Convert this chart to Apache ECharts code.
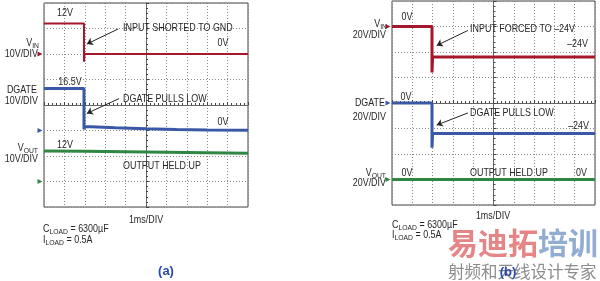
<!DOCTYPE html>
<html><head><meta charset="utf-8">
<script src="https://cdn.jsdelivr.net/npm/echarts@6/dist/echarts.min.js"></script>
<style>html,body{margin:0;padding:0;background:#fff}#c{width:600px;height:281px}</style>
</head><body><div id="c"></div>
<script>
// ---- Data (time in ms, values in volts) ----
const timeVinA = [0, 1.96, 1.96, 1.99, 10];
const vinA = [12, 12, -3, 0, 0];
const timeDgateA = [0, 1.96, 1.96, 2.0, 2.6, 3.5, 5, 6.5, 8, 10];
const dgateA = [16.5, 16.5, 0.5, 1.6, 1.4, 1.1, 0.7, 0.4, 0.2, 0.1];
const timeVoutA = [0, 2, 4, 6, 8, 10];
const voutA = [12, 11.9, 11.7, 11.5, 11.3, 11.1];

const timeVinB = [0, 1.97, 1.97, 2.0, 10];
const vinB = [0, 0, -36, -24, -24];
const timeDgateB = [0, 1.97, 1.97, 2.0, 10];
const dgateB = [0, 0, -35, -24, -24];
const timeVoutB = [0, 10];
const voutB = [0, 0];

// volts per division and position of 0V (divisions from bottom of 8)
const voltsPerDivA = [10, 10, 10];
const zeroDivA = [6, 3, 1];
const voltsPerDivB = [20, 20, 20];
const zeroDivB = [7, 4, 1];

// annotation arrows: [time, volts] start -> end
const arrowVinA = [[3.63, 9.8], [2.1, 3.9]];
const arrowDgateA = [[3.68, 12.5], [2.1, 6.7]];
const arrowVinB = [[3.74, -3.1], [2.2, -14.9]];
const arrowDgateB = [[3.74, -7.8], [2.2, -17.3]];

const RED = '#a5182c', BLUE = '#3b58a6', GREEN = '#2f8743';
const FONT = '"Liberation Sans", Arial, sans-serif';
const TXT = '#262626';
const SX = 0.85; // condensed look

const grids = [
  {left: 44, top: 3, width: 204, height: 204, show: true, borderColor: '#444', borderWidth: 1},
  {left: 392, top: 1, width: 203, height: 204, show: true, borderColor: '#444', borderWidth: 1}
];
const xAxes = [], yAxes = [], series = [];
const gridLine = {show: true, lineStyle: {color: '#8a8a8a', type: [1, 2], width: 1}};

function addPanel(gi, chans) {
  const xDiv = xAxes.length, yDiv = yAxes.length;
  xAxes.push({gridIndex: gi, type: 'value', min: -5, max: 5, interval: 1,
    axisLabel: {show: false}, splitLine: gridLine,
    axisLine: {show: true, onZero: true, onZeroAxisIndex: yDiv, lineStyle: {color: '#666', width: 1}},
    axisTick: {show: true, inside: true, length: 3, lineStyle: {color: '#444'}},
    minorTick: {show: true, splitNumber: 5, length: 2, lineStyle: {color: '#444'}}});
  const xt = xAxes.length;
  xAxes.push({gridIndex: gi, type: 'value', min: 0, max: 10, show: false});
  yAxes.push({gridIndex: gi, type: 'value', min: -4, max: 4, interval: 1,
    axisLabel: {show: false}, splitLine: gridLine,
    axisLine: {show: true, onZero: true, onZeroAxisIndex: xDiv, lineStyle: {color: '#666', width: 1}},
    axisTick: {show: true, inside: true, length: 3, lineStyle: {color: '#444'}},
    minorTick: {show: true, splitNumber: 5, length: 2, lineStyle: {color: '#444'}}});
  chans.forEach(ch => {
    const yi = yAxes.length;
    yAxes.push({gridIndex: gi, type: 'value', show: false,
      min: -ch.zero * ch.vpd, max: (8 - ch.zero) * ch.vpd});
    const s = {type: 'line', xAxisIndex: xt, yAxisIndex: yi, animation: false, silent: true,
      symbol: 'none', showSymbol: false, z: 5,
      data: ch.t.map((t, i) => [t, ch.v[i]]),
      lineStyle: {color: ch.color, width: ch.width},
      markPoint: {symbol: 'triangle', symbolSize: [5, 5], symbolRotate: -90, symbolOffset: [-4, 0],
        itemStyle: {color: ch.color}, label: {show: false}, animation: false,
        data: [{coord: [0, 0]}]}};
    if (ch.arrow) {
      s.markLine = {silent: true, animation: false, symbol: ['none', 'arrow'], symbolSize: 6,
        label: {show: false}, lineStyle: {color: '#222', width: 1, type: 'solid'},
        data: [[{coord: ch.arrow[0]}, {coord: ch.arrow[1]}]]};
    }
    series.push(s);
  });
}

addPanel(0, [
  {t: timeVinA, v: vinA, vpd: voltsPerDivA[0], zero: zeroDivA[0], color: RED, width: 2, arrow: arrowVinA},
  {t: timeDgateA, v: dgateA, vpd: voltsPerDivA[1], zero: zeroDivA[1], color: BLUE, width: 3, arrow: arrowDgateA},
  {t: timeVoutA, v: voutA, vpd: voltsPerDivA[2], zero: zeroDivA[2], color: GREEN, width: 3}
]);
addPanel(1, [
  {t: timeVinB, v: vinB, vpd: voltsPerDivB[0], zero: zeroDivB[0], color: RED, width: 3, arrow: arrowVinB},
  {t: timeDgateB, v: dgateB, vpd: voltsPerDivB[1], zero: zeroDivB[1], color: BLUE, width: 3, arrow: arrowDgateB},
  {t: timeVoutB, v: voutB, vpd: voltsPerDivB[2], zero: zeroDivB[2], color: GREEN, width: 3}
]);

// ---- text helpers ----
function txt(x, y, text, align) {
  return {type: 'text', x: x, y: y, z: 20, silent: true, scaleX: SX,
    style: {text: text, fill: TXT, font: '10.5px ' + FONT, align: align || 'left', verticalAlign: 'middle'}};
}
const subRich = {
  m: {fontSize: 10.5, fontFamily: FONT, fill: TXT, lineHeight: 14},
  s: {fontSize: 8, fontFamily: FONT, fill: TXT, lineHeight: 9, verticalAlign: 'bottom'}
};
function sub(x, y, main, subs, rest, align) {
  return {type: 'text', x: x, y: y, z: 20, silent: true, scaleX: SX,
    style: {text: '{m|' + main + '}{s|' + subs + '}' + (rest ? '{m|' + rest + '}' : ''),
      rich: subRich, align: align || 'left', verticalAlign: 'middle'}};
}

const graphics = [
  // panel (a)
  txt(65, 13, '12V', 'center'),
  txt(123, 28, 'INPUT SHORTED TO GND'),
  txt(223, 43, '0V', 'center'),
  sub(39, 43, 'V', 'IN', '', 'right'),
  txt(38, 54, '10V/DIV', 'right'),
  txt(70, 82, '16.5V', 'center'),
  txt(37, 90, 'DGATE', 'right'),
  txt(38, 101, '10V/DIV', 'right'),
  txt(123, 99, 'DGATE PULLS LOW'),
  txt(223, 122, '0V', 'center'),
  txt(65, 145, '12V', 'center'),
  sub(38, 148, 'V', 'OUT', '', 'right'),
  txt(38, 159, '10V/DIV', 'right'),
  txt(123, 166, 'OUTPUT HELD UP'),
  txt(146, 220, '1ms/DIV', 'center'),
  sub(43, 229, 'C', 'LOAD', ' = 6300µF'),
  sub(43, 240, 'I', 'LOAD', ' = 0.5A'),
  // panel (b)
  txt(407, 17, '0V', 'center'),
  sub(387, 24, 'V', 'IN', '', 'right'),
  txt(386, 35, '20V/DIV', 'right'),
  txt(470, 29, 'INPUT FORCED TO –24V'),
  txt(588, 44, '–24V', 'right'),
  txt(406, 97, '0V', 'center'),
  txt(385, 103, 'DGATE', 'right'),
  txt(386, 117, '20V/DIV', 'right'),
  txt(470, 113, 'DGATE PULLS LOW'),
  txt(589, 126, '–24V', 'right'),
  sub(386, 173, 'V', 'OUT', '', 'right'),
  txt(386, 183, '20V/DIV', 'right'),
  txt(407, 173, '0V', 'center'),
  txt(470, 173, 'OUTPUT HELD UP'),
  txt(587, 173, '0V', 'right'),
  txt(493, 216, '1ms/DIV', 'center'),
  sub(392, 225, 'C', 'LOAD', ' = 6300µF'),
  sub(392, 235, 'I', 'LOAD', ' = 0.5A'),
  // watermark
  {type: 'text', x: 448, y: 243, z: 10, silent: true,
    style: {text: '{r|易迪拓}{b|培训}', align: 'left', verticalAlign: 'middle',
      rich: {r: {fontSize: 30, fontWeight: 'bold', fontFamily: '"Noto Sans CJK SC"', fill: 'rgba(222,92,92,0.75)'},
             b: {fontSize: 30, fontWeight: 'bold', fontFamily: '"Noto Sans CJK SC"', fill: 'rgba(110,145,195,0.75)'}}}},
  {type: 'text', x: 448, y: 272, z: 10, silent: true,
    style: {text: '射频和天线设计专家', fill: '#8c8c8c', font: '16.5px "Noto Sans CJK SC"', align: 'left', verticalAlign: 'middle'}},
  // panel captions
  {type: 'text', x: 166, y: 271, z: 20, silent: true,
    style: {text: '(a)', fill: '#2a4ab0', font: 'bold 13px "Liberation Sans", sans-serif', align: 'center', verticalAlign: 'middle'}},
  {type: 'text', x: 508, y: 272, z: 20, silent: true,
    style: {text: '(b)', fill: '#2a4ab0', font: 'bold 13px "Liberation Sans", sans-serif', align: 'center', verticalAlign: 'middle'}}
];

const chart = echarts.init(document.getElementById('c'), null, {renderer: 'canvas'});
chart.setOption({
  animation: false,
  backgroundColor: '#fff',
  grid: grids,
  xAxis: xAxes,
  yAxis: yAxes,
  series: series,
  graphic: graphics
});
</script>
</body></html>
